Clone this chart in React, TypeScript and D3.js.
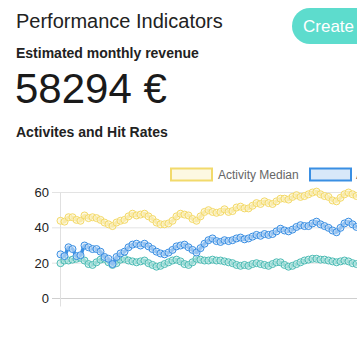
import React from "react";
import * as d3 from "d3";

const yTicks = [0, 20, 40, 60];

const activityMedian = [
  44, 43.5, 46, 46, 44.5, 44, 47, 45.5, 46, 45.5, 44.5, 43, 42, 41, 43, 44, 44.5, 46.5, 48, 47,
  47.5, 48, 46.5, 45, 43, 42, 42, 42.5, 44, 46.5, 48, 47.5, 47, 45, 44, 46.5, 49, 50, 49, 48.5,
  49, 50.5, 49, 49.5, 51.5, 52, 51, 51, 52.5, 54, 53.5, 55, 54, 53.5, 55, 56.5, 56.5, 56, 57.5, 58.5,
  57.5, 58, 59, 60, 60.5, 59, 58, 57.5, 55.5, 55, 57, 59, 60, 59, 58, 58.5,
];

const activity = [
  25, 24, 29, 28, 24, 24.5, 30, 29, 28, 28, 26.5, 23.5, 22.5, 19.5, 23.5, 25.5, 26.5, 29, 30.5, 31,
  30, 31, 29.5, 28, 26.5, 25.5, 25, 26, 27.5, 29.5, 30, 30.5, 29, 27.5, 26, 28.5, 31, 33, 34, 32.5,
  32, 33, 32.5, 33, 34, 34.5, 33.5, 34, 35, 36, 35.5, 36.5, 36, 36.5, 38, 39.5, 38.5, 38, 39, 40.5,
  41.5, 41, 41, 42.5, 43.5, 42, 41, 40, 38.5, 37.5, 40, 42.5, 43.5, 42, 40.5, 41,
];

const hitRate = [
  20, 21.5, 21.5, 22, 22.5, 23, 21.5, 19.5, 19, 20.5, 22, 22.5, 20.5, 19, 20, 22, 22.5, 21.5, 21, 20.5,
  21, 21.5, 20, 19, 18, 18.5, 19.5, 20.5, 21.5, 22, 21, 19.5, 19, 20.5, 22.5, 22, 21.5, 21.5, 22, 21.5,
  21.5, 21, 20.5, 20, 19, 18.5, 19, 18.5, 19.5, 20, 19.5, 19, 18.5, 19.5, 20.5, 20.5, 19, 18, 18.5, 19.5,
  20.5, 21.5, 22, 22.5, 22.5, 22, 22, 21.5, 21, 20.5, 21, 21.5, 21, 20, 19.5, 20,
];

const series = [
  { name: "Hit Rate", values: hitRate, stroke: "#4dbcb5", fill: "#c9ecea" },
  { name: "Activity", values: activity, stroke: "#3a8fe3", fill: "#cfe3f8" },
  { name: "Activity Median", values: activityMedian, stroke: "#f4da68", fill: "#fcf5d6" },
];

const legendItems = [
  { label: "Activity Median", stroke: "#f2da6c", fill: "#fdf8e2" },
  { label: "Activity", stroke: "#3a8fe3", fill: "#d8e8f9" },
];

export default function App() {
  const W = 357;
  const H = 338;
  const n = activityMedian.length;
  const x = d3.scaleLinear().domain([0, n - 1]).range([60.5, 60.5 + 4 * (n - 1)]);
  const y = d3.scaleLinear().domain([0, 60]).range([298.5, 192.5]);
  const line = d3
    .line<number>()
    .x((_, i) => x(i))
    .y((d) => y(d))
    .curve(d3.curveMonotoneX);

  const font = "'Liberation Sans', Arial, Helvetica, sans-serif";

  return (
    <svg
      width={W}
      height={H}
      style={{ position: "absolute", left: 0, top: 0, background: "#fff" }}
      fontFamily={font}
    >
      <defs>
        <clipPath id="clip">
          <rect x={0} y={0} width={W} height={H} />
        </clipPath>
      </defs>
      <text x={16} y={28} fontSize={20} fill="#222">Performance Indicators</text>
      <text x={16} y={58} fontSize={14} fontWeight="bold" fill="#222">Estimated monthly revenue</text>
      <text x={15} y={103} fontSize={42} fill="#1a1a1a">58294 €</text>
      <text x={16} y={137} fontSize={14} fontWeight="bold" fill="#222">Activites and Hit Rates</text>

      <rect x={292} y={8} width={110} height={36} rx={18} fill="#5ddccd" />
      <text x={303} y={32} fontSize={17} fill="#fff">Create</text>

      {/* legend */}
      <g>
        <rect x={171} y={168.5} width={41} height={12} fill={legendItems[0].fill} stroke={legendItems[0].stroke} strokeWidth={2} />
        <text x={218} y={179} fontSize={12} fill="#666">{legendItems[0].label}</text>
        <rect x={310} y={168.5} width={41} height={12} fill={legendItems[1].fill} stroke={legendItems[1].stroke} strokeWidth={2} />
        <text x={356} y={179} fontSize={12} fill="#666">{legendItems[1].label}</text>
      </g>

      {/* grid */}
      <g>
        {yTicks.map((t) => (
          <g key={t}>
            <line x1={52} x2={W} y1={y(t)} y2={y(t)} stroke={t === 0 ? "#cfcfcf" : "#e3e3e3"} strokeWidth={1} />
            <text x={49} y={y(t)} dy="0.35em" textAnchor="end" fontSize={13} fill="#222">{t}</text>
          </g>
        ))}
        <line x1={60.5} x2={60.5} y1={y(60)} y2={y(0) + 8} stroke="#e0e0e0" strokeWidth={1} />
      </g>

      <g clipPath="url(#clip)">
        {series.map((s) => (
          <g key={s.name}>
            <path d={line(s.values) || ""} fill="none" stroke={s.stroke} strokeWidth={3.5} />
            {s.values.map((v, i) => (
              <circle key={i} cx={x(i)} cy={y(v)} r={3.5} fill={s.fill} fillOpacity={0.6} stroke={s.stroke} strokeWidth={1} />
            ))}
          </g>
        ))}
      </g>
    </svg>
  );
}
